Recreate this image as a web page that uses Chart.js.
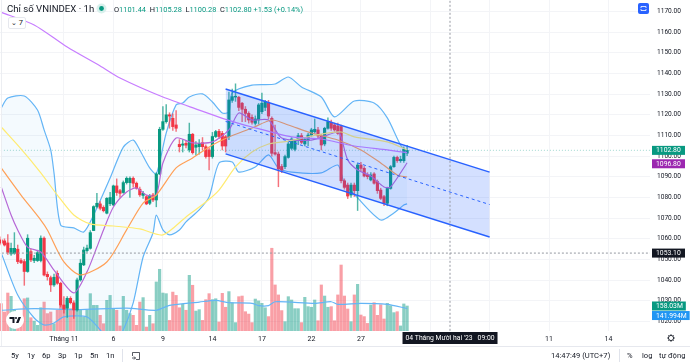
<!DOCTYPE html>
<html>
<head>
<meta charset="utf-8">
<script src="https://cdn.jsdelivr.net/npm/chart.js@4"></script>
<style>
  html, body { margin: 0; padding: 0; background: #fff; }
  #wrap { position: relative; width: 690px; height: 364px; overflow: hidden; font-family: Roboto, sans-serif; color: #131722; }
  canvas { position: absolute; left: 0; top: 0; }
  .t { position: absolute; white-space: nowrap; line-height: 10px; }
  .up { color: #089981; }
  #hline { position: absolute; left: 0; top: 346px; width: 690px; height: 1px; background: #e6e8ee; }
  #vline { position: absolute; left: 1px; top: 0; width: 1px; height: 346px; background: #eceef2; }
  .sep { position: absolute; top: 349px; width: 1px; height: 13px; background: #e0e3eb; }
</style>
</head>
<body>
<div id="wrap">
  <canvas id="chart" width="690" height="364"></canvas>
  <div id="vline"></div>
  <div id="hline"></div>

  <!-- header -->
  <div class="t" style="left:7px;top:4px;font-size:9.6px">Chỉ số VNINDEX · 1h</div>
  <svg style="position:absolute;left:96px;top:3px" width="11" height="11"><circle cx="5.5" cy="5.5" r="5" fill="#d9f0ec"/><circle cx="5.5" cy="5.5" r="2.4" fill="#089981"/></svg>
  <div class="t" style="left:114px;top:5px;font-size:7.4px">O<span class="up">1101.44</span>&nbsp; H<span class="up">1105.28</span>&nbsp; L<span class="up">1100.28</span>&nbsp; C<span class="up">1102.80 +1.53 (+0.14%)</span></div>
  <div class="t" style="left:8px;top:17px;width:16px;height:10px;border:1px solid #e6e8ee;border-radius:2px;font-size:7.4px;text-align:center;background:#fff">⌄ 7</div>

  <!-- fullscreen button -->
  <svg style="position:absolute;left:638px;top:3px" width="11" height="11"><rect width="11" height="11" rx="2" fill="#2962ff"/><path d="M3 5V3.5H8V5M3 6V7.5H8V6" fill="none" stroke="#fff" stroke-width="0.8"/></svg>

  <!-- logo -->
  <svg style="position:absolute;left:6px;top:311px" width="18" height="18"><circle cx="9" cy="9" r="9" fill="#fff"/><path d="M3.5 6H8.5V12H6.5V8H3.5ZM12.5 6H15L12.5 12H10Z" fill="#131722"/><circle cx="10" cy="7" r="1" fill="#131722"/></svg>

  <!-- bottom toolbar -->
  <div class="t" style="left:11px;top:351px;font-size:7.6px">5y</div>
  <div class="t" style="left:27px;top:351px;font-size:7.6px">1y</div>
  <div class="t" style="left:42px;top:351px;font-size:7.6px">6p</div>
  <div class="t" style="left:58px;top:351px;font-size:7.6px">3p</div>
  <div class="t" style="left:74px;top:351px;font-size:7.6px">1p</div>
  <div class="t" style="left:90px;top:351px;font-size:7.6px">5n</div>
  <div class="t" style="left:106px;top:351px;font-size:7.6px">1n</div>
  <div class="sep" style="left:122px"></div>
  <svg style="position:absolute;left:131px;top:351px" width="10" height="10"><path d="M1.5 5V1.5H8.5V8.5H5M1 7H4.5M3 5.5L4.5 7L3 8.5" fill="none" stroke="#131722" stroke-width="0.7"/></svg>
  <div class="t" style="left:551px;top:351px;font-size:7.6px">14:47:49 (UTC+7)</div>
  <div class="sep" style="left:619px"></div>
  <div class="t" style="left:627px;top:351px;font-size:7.6px">%</div>
  <div class="t" style="left:642px;top:351px;font-size:7.6px">log</div>
  <div class="t" style="left:659px;top:351px;font-size:7.6px">tự động</div>
  <svg style="position:absolute;left:667px;top:334px" width="8" height="8"><circle cx="4" cy="4" r="2.6" fill="none" stroke="#131722" stroke-width="0.9"/><path d="M4 0V1.4M4 6.6V8M0 4H1.4M6.6 4H8M1.2 1.2L2.1 2.1M5.9 5.9L6.8 6.8M6.8 1.2L5.9 2.1M2.1 5.9L1.2 6.8" stroke="#131722" stroke-width="0.7"/></svg>
</div>

<script>
// candles, one row of 10 per line
var opens = [
  1059.5,1059,1058,1052.7,1053,1055,1049.5,1049,1044.2,1053.8,
  1049.5,1049.5,1049.5,1060.3,1042.8,1041.2,1037.7,1043.3,1038.5,1028,
  1026.5,1031.2,1029,1025.6,1040.1,1047.4,1054.3,1055.4,1064,1075.6,
  1076.9,1075.2,1072.4,1077,1076.4,1085.6,1083.3,1082.4,1087.2,1087.2,
  1089.3,1086.9,1084,1081,1080.4,1077.2,1081.2,1078.8,1091.4,1113,
  1116.7,1120,1118.3,1115.1,1105.7,1105.3,1106.2,1103,1110.6,1104.3,
  1104.6,1106.5,1104.6,1103,1099.8,1109.5,1112,1111,1109.4,1109.4,
  1127,1128.6,1128.5,1125.6,1122.7,1120.7,1118.8,1115.9,1117.5,1121.5,
  1123.6,1125.6,1118.3,1101.7,1101,1095,1094.9,1099.4,1103.8,1103.3,
  1107.5,1109.9,1105.9,1107.8,1110.2,1111.8,1112.7,1109.9,1105.9,1113.5,
  1116.4,1115.1,1114.6,1114.3,1088.1,1086,1081.2,1086,1083.3,1095.7,
  1094.1,1090.9,1088.5,1091.4,1087.7,1083.6,1080.4,1077.2,1084.4,1094.9,
  1099.4,1097.8,1097.8,1101.44
];
var closes = [
  1057.9,1057,1053.5,1055.4,1055.4,1049,1048.5,1044.2,1060.3,1049.8,
  1050.6,1053.3,1060.3,1042.5,1041.7,1037.7,1041.4,1038.5,1028,1026,
  1031.2,1029.1,1025.6,1040.1,1048.2,1054.6,1055.5,1063,1075.6,1077.2,
  1074.8,1073.6,1079.6,1080,1085.6,1082.4,1082,1087.2,1089.3,1089.3,
  1086.9,1084.5,1081.3,1082,1076.9,1080.7,1078.8,1091.4,1113,1116.7,
  1120,1119.4,1114.3,1113.5,1104.6,1105.9,1105.3,1110.6,1101.7,1105.4,
  1106.2,1104.6,1099.8,1099.8,1109.5,1111.9,1109.5,1104.9,1104.9,1127.2,
  1128.8,1129,1123.6,1122.7,1120.7,1117.5,1116.4,1118,1124.8,1125.6,
  1126.4,1119.4,1101.4,1101,1093.8,1093.3,1099.8,1105.9,1108.3,1107.5,
  1109.9,1106.7,1108.1,1110.2,1112.7,1113,1109.8,1105.4,1113.5,1116.7,
  1113.5,1112.7,1111,1088.1,1084.9,1080.7,1086,1083.3,1095.7,1094.1,
  1090.4,1090.1,1090.9,1086.9,1083.3,1079.6,1077.2,1084.4,1094.9,1099.4,
  1097.8,1098.5,1103.3,1102.80
];
var highs = [
  1061,1060,1062,1058,1063,1057,1050.5,1050,1062,1055,
  1052,1054.5,1061.5,1061,1044,1042,1043,1044.5,1039,1032,
  1032,1032,1030,1041,1050,1056,1057,1064,1076,1082,
  1078,1076,1080,1082.5,1086,1089,1084,1088,1090,1090,
  1090,1087.5,1085,1083,1081,1081.5,1082,1092,1114,1124,
  1125,1121,1120.5,1122,1108,1108,1107.5,1116,1111,1107,
  1108,1109,1105.5,1104,1111.5,1112.5,1113,1112,1110,1131,
  1132.5,1135,1129,1126,1124,1121.5,1120,1119.5,1125.5,1130.5,
  1127,1127,1119,1115,1102,1096,1100.5,1107,1109,1108,
  1111,1111,1109,1111,1113.5,1118,1114,1110.5,1114,1118.5,
  1117.5,1116,1116,1115,1089,1087,1087,1087,1096.5,1097,
  1095,1092,1092,1092,1088.5,1084.5,1081,1085,1095.5,1100,
  1100,1100,1104.5,1105.28
];
var lows = [
  1057,1056.5,1052.5,1052,1052.5,1048,1048,1037.5,1043.8,1049,
  1048.5,1049,1048.8,1042,1040,1034.5,1037,1038,1027,1024,
  1022,1028.5,1021.5,1025,1039.5,1047,1053.5,1055,1064,1075,
  1074,1073,1072,1076,1076,1081,1080,1082,1086.5,1080,
  1085,1084,1080.5,1079.5,1076.5,1076.5,1078,1075.5,1091,1112.5,
  1116,1113.5,1112.5,1112,1102,1102,1104,1102,1101,1100.5,
  1101,1103,1099,1093.3,1099,1109,1108.5,1103,1102,1108,
  1126,1126.5,1122,1116.7,1116.7,1116,1115.5,1115,1115.5,1120.5,
  1122,1118,1100,1100.5,1085.2,1092,1094,1099,1103,1102.5,
  1105.5,1106,1105,1105,1109.5,1111,1109,1103,1105,1113,
  1112.5,1112,1110.5,1087,1084,1079.5,1080,1080.5,1073.7,1093,
  1090,1089,1088,1086.5,1082,1079,1076,1076,1084,1094.5,
  1097,1097,1097,1100.28
];
// volume in millions
var volumes = [
  173,120,240,219,131,88,57,204,209,84,
  63,36,147,183,110,120,46,131,204,162,
  194,141,173,131,131,88,131,236,162,162,
  99,46,194,225,141,131,32,219,131,110,
  99,36,183,211,25,99,46,310,390,240,
  236,67,246,225,147,169,131,352,289,126,
  135,67,198,236,198,204,57,238,150,249,
  179,53,217,221,122,107,53,202,190,175,
  147,91,523,291,228,129,59,217,196,141,
  141,53,213,154,150,196,65,291,221,150,
  154,65,228,417,221,139,59,228,295,101,
  91,48,164,179,99,166,76,175,160,116,
  122,32,171,158.03
];

// moving averages: bar index + value
var ma200X = [0,10,20,30,36,49,60,68,76,88,97,107,117,123];
var ma200 = [1169.6,1163.5,1152.8,1143.6,1137.8,1128.6,1122.3,1117.8,1114.1,1109.3,1108.3,1104.9,1103,1101.7];
var ma100X = [0,6,12,17,22,27,34,42,49,56,62,66,71,76,81,87,97,103,107,117,123];
var ma100 = [1114.1,1103.5,1091.9,1081.2,1071.5,1067.2,1066.2,1064.8,1061.9,1070.6,1077.8,1083.6,1094.8,1102,1105.9,1107.3,1110.7,1111.7,1109.3,1106.9,1103];
var ma50X = [0,6,12,14,19,24,32,38,43,47,53,58,64,69,76,82,87,94,102,109,115,120,123];
var ma50 = [1094.3,1081.2,1069.1,1064.3,1048.8,1042.5,1048.8,1064.3,1077.3,1081.2,1094.3,1099.1,1105.4,1109.3,1113.6,1117.5,1115.1,1111.2,1107.8,1103,1096.7,1090.9,1089.9];
var ma20X = [0,3,5,8,12,16,22,26,29,31,34,38,41,44,47,49,53,58,64,69,72,76,81,85,94,102,103,105,108,112,116,118,123];
var ma20 = [1085.1,1071.5,1064.3,1056,1053.6,1044.9,1033.8,1044,1056,1064.3,1075.4,1082.7,1084.6,1081.2,1081.2,1096.7,1108.8,1106.4,1106.9,1112.7,1120.9,1117.5,1117.5,1108.8,1107.8,1111.7,1109.3,1098.2,1093.3,1090.4,1085.1,1085.1,1096.8];

// bollinger bands
var bbUpperX = [0,2,7,11,13,15,16,18,22,25,28,33,37,40,42,45,47,50,53,55,57,61,64,67,69,70,76,83,87,91,97,101,107,113,117,121,123];
var bbUpper = [1123.3,1128.1,1129.1,1122.3,1112.7,1103,1091.9,1066.7,1065.3,1063.3,1071.5,1089.4,1104.4,1107.8,1103,1094.3,1091.4,1111.2,1124.8,1125.7,1128.6,1130.1,1126.2,1120.9,1121.4,1130.6,1134.4,1134.9,1138.3,1133.5,1128.6,1119,1126.7,1125.7,1118.5,1105.4,1102];
var bbLowerX = [0,5,10,13,16,19,26,30,34,37,40,43,46,47,49,51,54,56,60,63,66,70,72,77,81,84,88,97,102,104,108,115,119,122,123];
var bbLower = [1053.2,1032.8,1021.7,1018.3,1019.3,1022.2,1022.2,1015.9,1008.6,1015.9,1029,1051.2,1062.8,1071.5,1064.3,1061.9,1064.3,1068.2,1074,1080.3,1096.7,1097.2,1092.3,1094.8,1100.6,1094.3,1092.3,1091.9,1095.7,1087,1079.8,1069.1,1072.5,1076.4,1076.9];

// volume average
var volMaX = [0,10,23,38,47,51,60,65,69,76,78,81,83,95,100,102,109,117,123];
var volMa = [131,141,135,145,131,162,183,194,179,175,160,160,185,175,185,168,175,168,141.994];

// parallel channel drawing
var channelX = [68,148];
var channelTop = [1132.5,1092.3];
var channelMid = [1116.8,1076.6];
var channelBottom = [1101.1,1060.9];

// axes
var priceTicks = [1020,1030,1040,1050,1060,1070,1080,1090,1100,1110,1120,1130,1140,1150,1160,1170];
var timeTicks = [19,34,49,64,79,94,109,130,148,166,184];
var timeLabels = ['Tháng 11','6','9','14','17','22','27','','','11','14'];

// crosshair
var crossBar = 136;
var crossPrice = 1053.10;
var crossTime = "04 Tháng Mười hai '23   09:00";

var UP = '#089981', DOWN = '#f23645';
var lastClose = closes[closes.length - 1];
var lastMa20 = ma20[ma20.length - 1];
var lastVol = volumes[volumes.length - 1];
var lastVolMa = volMa[volMa.length - 1];

function pts(xs, ys) {
  return ys.map(function (y, i) { return { x: xs[i], y: y }; });
}
function isUp(i) { return closes[i] >= opens[i]; }

function lineDs(xs, ys, color, order, extra) {
  return Object.assign({
    type: 'line',
    data: pts(xs, ys),
    borderColor: color,
    borderWidth: 1.2,
    pointRadius: 0,
    tension: 0.25,
    order: order,
    yAxisID: 'y'
  }, extra || {});
}

var barDatasets = [
  {//volume
    data: volumes.map(function (v, i) { return { x: i, y: v }; }),
    yAxisID: 'yVol',
    barThickness: 2.5,
    grouped: false,
    order: 10,
    backgroundColor: volumes.map(function (v, i) { return isUp(i) ? 'rgba(8,153,129,0.48)' : 'rgba(242,54,69,0.48)'; })
  },
  {//wicks
    data: highs.map(function (h, i) { return { x: i, y: [lows[i], h] }; }),
    yAxisID: 'y',
    barThickness: 0.8,
    grouped: false,
    order: 6,
    backgroundColor: highs.map(function (h, i) { return isUp(i) ? 'rgba(8,153,129,0.7)' : 'rgba(242,54,69,0.7)'; })
  },
  {//bodies
    data: opens.map(function (o, i) { return { x: i, y: [o, closes[i]] }; }),
    yAxisID: 'y',
    barThickness: 2.5,
    grouped: false,
    order: 5,
    backgroundColor: opens.map(function (o, i) { return isUp(i) ? UP : DOWN; })
  }
];

var endX = [-1, 197];

var lineDatasets = [
  lineDs(bbUpperX, bbUpper, '#64b5f6', 8, { fill: '+1', backgroundColor: 'rgba(33,150,243,0.05)' }),
  lineDs(bbLowerX, bbLower, '#64b5f6', 8),
  lineDs(ma200X, ma200, '#c77dff', 4),
  lineDs(ma100X, ma100, '#ffeb70', 4),
  lineDs(ma50X, ma50, '#ffa057', 4),
  lineDs(ma20X, ma20, '#b667d6', 4),
  lineDs(volMaX, volMa, '#64b5f6', 7, { yAxisID: 'yVol' }),
  lineDs(endX, [lastClose, lastClose], 'rgba(8,153,129,0.3)', 7, { borderDash: [1, 2], tension: 0 }),
  lineDs(channelX, channelTop, '#2962ff', 2, { borderWidth: 1.4, tension: 0, fill: '+1', backgroundColor: 'rgba(41,98,255,0.2)' }),
  lineDs(channelX, channelBottom, '#2962ff', 2, { borderWidth: 1.4, tension: 0 }),
  lineDs(channelX, channelMid, '#2962ff', 2, { borderWidth: 1, borderDash: [3, 3], tension: 0 }),
  lineDs(endX, [crossPrice, crossPrice], '#9598a1', 1, { borderWidth: 1, borderDash: [2, 2], tension: 0 }),
  {
    type: 'line', data: [{ x: crossBar, y: 1000 }, { x: crossBar, y: 1200 }], borderColor: '#9598a1',
    borderWidth: 1, borderDash: [2, 2], pointRadius: 0, order: 1, yAxisID: 'y'
  }
];

// price tags on the right axis + time tag of the crosshair
var tags = [
  { text: crossPrice.toFixed(2), value: crossPrice, color: '#131722', axis: 'y', shift: 0 },
  { text: lastClose.toFixed(2), value: lastClose, color: '#089981', axis: 'y', shift: 0 },
  { text: lastMa20.toFixed(2), value: lastMa20, color: '#9c27b0', axis: 'y', shift: 1 },
  { text: lastVol.toFixed(2) + 'M', value: lastVol, color: '#089981', axis: 'yVol', shift: 0 },
  { text: lastVolMa.toFixed(3) + 'M', value: lastVolMa, color: '#2196f3', axis: 'yVol', shift: 7 }
];

var tagPlugin = {
  id: 'tags',
  afterDraw: function (chart) {
    var ctx = chart.ctx;
    ctx.save();
    ctx.font = '6.8px Roboto';
    ctx.textBaseline = 'middle';
    tags.forEach(function (t) {
      var y = chart.scales[t.axis].getPixelForValue(t.value) + t.shift;
      var w = Math.max(33, ctx.measureText(t.text).width + 7);
      ctx.fillStyle = t.color;
      ctx.fillRect(652, y - 4.5, w, 9);
      ctx.fillStyle = '#fff';
      ctx.textAlign = 'left';
      ctx.fillText(t.text, 656, y + 0.3);
    });
    // crosshair time tag
    var cx = chart.scales.x.getPixelForValue(crossBar);
    var tw = 95;
    ctx.fillStyle = '#131722';
    ctx.fillRect(cx - tw / 2, 332, tw, 12);
    ctx.fillStyle = '#fff';
    ctx.textAlign = 'center';
    ctx.fillText(crossTime, cx, 338.5);
    ctx.restore();
  }
};

new Chart(document.getElementById('chart'), {
  type: 'bar',
  data: { datasets: barDatasets.concat(lineDatasets) },
  plugins: [tagPlugin],
  options: {
    responsive: false,
    animation: false,
    events: [],
    layout: { padding: 0 },
    plugins: { legend: { display: false }, tooltip: { enabled: false }, title: { display: false } },
    scales: {
      x: {
        type: 'linear',
        offset: false,
        min: -0.364,
        max: 196.6,
        border: { display: false },
        grid: { color: '#f3f4f7', offset: false, drawTicks: false },
        afterBuildTicks: function (s) { s.ticks = timeTicks.map(function (v) { return { value: v }; }); },
        afterFit: function (s) { s.height = 33; s.paddingLeft = 0; s.paddingRight = 0; },
        ticks: {
          autoSkip: false,
          maxRotation: 0,
          padding: 4,
          color: '#131722',
          font: { family: 'Roboto', size: 7 },
          callback: function (v) { return timeLabels[timeTicks.indexOf(v)]; }
        }
      },
      y: {
        position: 'right',
        min: 1015.4,
        max: 1175.56,
        border: { display: false },
        grid: { color: '#f3f4f7', drawTicks: false },
        afterBuildTicks: function (s) { s.ticks = priceTicks.map(function (v) { return { value: v }; }); },
        afterFit: function (s) { s.width = 40; s.paddingTop = 0; s.paddingBottom = 0; },
        ticks: {
          padding: 7,
          color: '#131722',
          font: { family: 'Roboto', size: 6.6 },
          callback: function (v) { return v.toFixed(2); }
        }
      },
      yVol: { display: false, min: 0, max: 2092 }
    }
  }
});
</script>
</body>
</html>
